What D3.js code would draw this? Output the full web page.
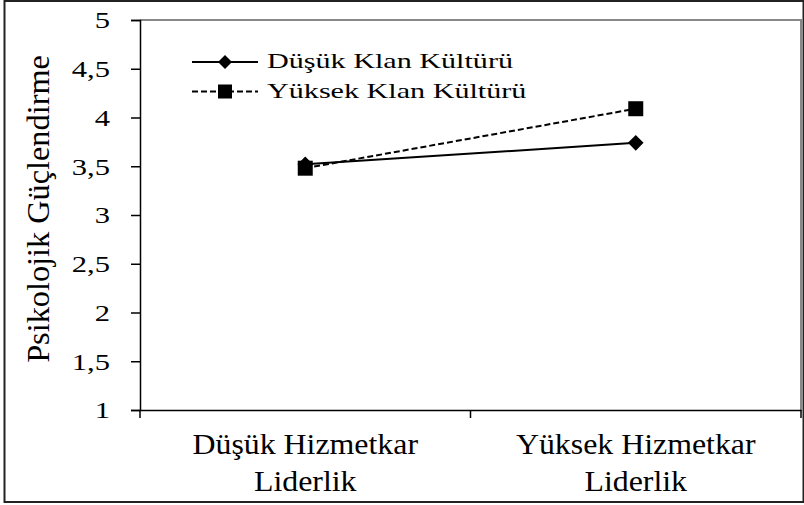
<!DOCTYPE html>
<html><head><meta charset="utf-8">
<script src="https://cdn.jsdelivr.net/npm/d3@7"></script>
<style>
html,body{margin:0;padding:0;background:#fff;}
svg{display:block;}
text{font-family:"Liberation Serif","Times New Roman",serif;fill:#000;}
</style></head>
<body>
<svg id="chart" width="804" height="505"></svg>
<script>
// ---- data ----
const categories = ["Düşük Hizmetkar|Liderlik", "Yüksek Hizmetkar|Liderlik"];
const seriesNames = ["Düşük Klan Kültürü", "Yüksek Klan Kültürü"];
const lowClanValues = [3.52, 3.74];
const highClanValues = [3.48, 4.09];
const yTickValues = [1, 1.5, 2, 2.5, 3, 3.5, 4, 4.5, 5];
const yTitle = "Psikolojik Güçlendirme";

// ---- layout ----
const svg = d3.select("#chart");
const pLeft = 140, pRight = 801, pTop = 20, pBottom = 410;
const SX = 1.33; // horizontal stretch of the source picture's text

const x = d3.scaleBand().domain(categories).range([pLeft, pRight]).paddingInner(0).paddingOuter(0);
const y = d3.scaleLinear().domain([1, 5]).range([pBottom, pTop]);
const cx = c => x(c) + x.bandwidth() / 2;

// outer frame
svg.append("rect").attr("x", 4.5).attr("y", 1).attr("width", 799).attr("height", 501)
  .attr("fill", "none").attr("stroke", "#222").attr("stroke-width", 2);

// plot area frame (top/right grey)
svg.append("path").attr("d", `M${pLeft},${pTop}H${pRight}V${pBottom}`)
  .attr("fill", "none").attr("stroke", "#888").attr("stroke-width", 2);

// y axis
const fmt = d => Number.isInteger(d) ? String(d) : String(d).replace(".", ",");
const yAxis = d3.axisLeft(y).tickValues(yTickValues).tickFormat(fmt).tickSize(9).tickPadding(30);
const gy = svg.append("g").attr("transform", `translate(${pLeft},0)`).call(yAxis);
gy.attr("font-family", null).attr("font-size", null);
gy.select(".domain").attr("stroke", "#000").attr("stroke-width", 1.5);
gy.selectAll(".tick line").attr("stroke", "#000").attr("stroke-width", 1.5);
gy.selectAll(".tick text")
  .attr("x", 0).attr("dy", null).attr("y", 7.8)
  .attr("transform", `translate(-30,0) scale(${SX},1)`)
  .attr("font-size", 23).attr("fill", "#000");

// x axis
const xAxis = d3.axisBottom(x).tickSize(0).tickFormat("");
const gx = svg.append("g").attr("transform", `translate(0,${pBottom})`).call(xAxis);
gx.select(".domain").attr("stroke", "#000").attr("stroke-width", 1.5);
gx.selectAll(".tick").remove();
const boundaries = [pLeft, ...categories.map(c => x(c) + x.bandwidth())];
svg.selectAll("line.xtick").data(boundaries).enter().append("line")
  .attr("x1", d => d).attr("x2", d => d).attr("y1", pBottom).attr("y2", pBottom + 8)
  .attr("stroke", "#000").attr("stroke-width", 1.5);

// category labels
categories.forEach(c => {
  const lines = c.split("|");
  lines.forEach((ln, i) => {
    svg.append("text").attr("text-anchor", "middle").attr("font-size", 29.5)
      .attr("transform", `translate(${cx(c)},${454 + i * 37}) scale(1.08,1)`).text(ln);
  });
});

// y title
svg.append("text").attr("transform", `translate(49,${209}) rotate(-90)`)
  .attr("text-anchor", "middle").attr("font-size", 32.3).text(yTitle);

// lines
const line = d3.line().x((d, i) => cx(categories[i])).y(d => y(d));
svg.append("path").datum(lowClanValues).attr("d", line).attr("fill", "none")
  .attr("stroke", "#000").attr("stroke-width", 2);
svg.append("path").datum(highClanValues).attr("d", line).attr("fill", "none")
  .attr("stroke", "#000").attr("stroke-width", 2).attr("stroke-dasharray", "6,3");

const diamond = s => `M0,${-s}L${s},0L0,${s}L${-s},0Z`;
svg.selectAll("path.dia").data(lowClanValues).enter().append("path")
  .attr("d", diamond(7.8)).attr("transform", (d, i) => `translate(${cx(categories[i])},${y(d)})`)
  .attr("fill", "#000");
svg.selectAll("rect.sq").data(highClanValues).enter().append("rect")
  .attr("x", (d, i) => cx(categories[i]) - 7.5).attr("y", d => y(d) - 7.5)
  .attr("width", 15).attr("height", 15).attr("fill", "#000");

// legend
const lg = svg.append("g");
const rows = [62, 91.5];
seriesNames.forEach((name, i) => {
  const yy = rows[i];
  lg.append("line").attr("x1", 192).attr("x2", 258).attr("y1", yy).attr("y2", yy)
    .attr("stroke", "#000").attr("stroke-width", 2).attr("stroke-dasharray", i === 1 ? "6,3" : null);
  if (i === 0) {
    lg.append("path").attr("d", diamond(7)).attr("transform", `translate(225,${yy})`).attr("fill", "#000");
  } else {
    lg.append("rect").attr("x", 218).attr("y", yy - 7).attr("width", 14).attr("height", 14).attr("fill", "#000");
  }
  lg.append("text").attr("font-size", 22)
    .attr("transform", `translate(267,${yy + 6}) scale(1.37,1)`).text(name);
});
</script>
</body></html>
